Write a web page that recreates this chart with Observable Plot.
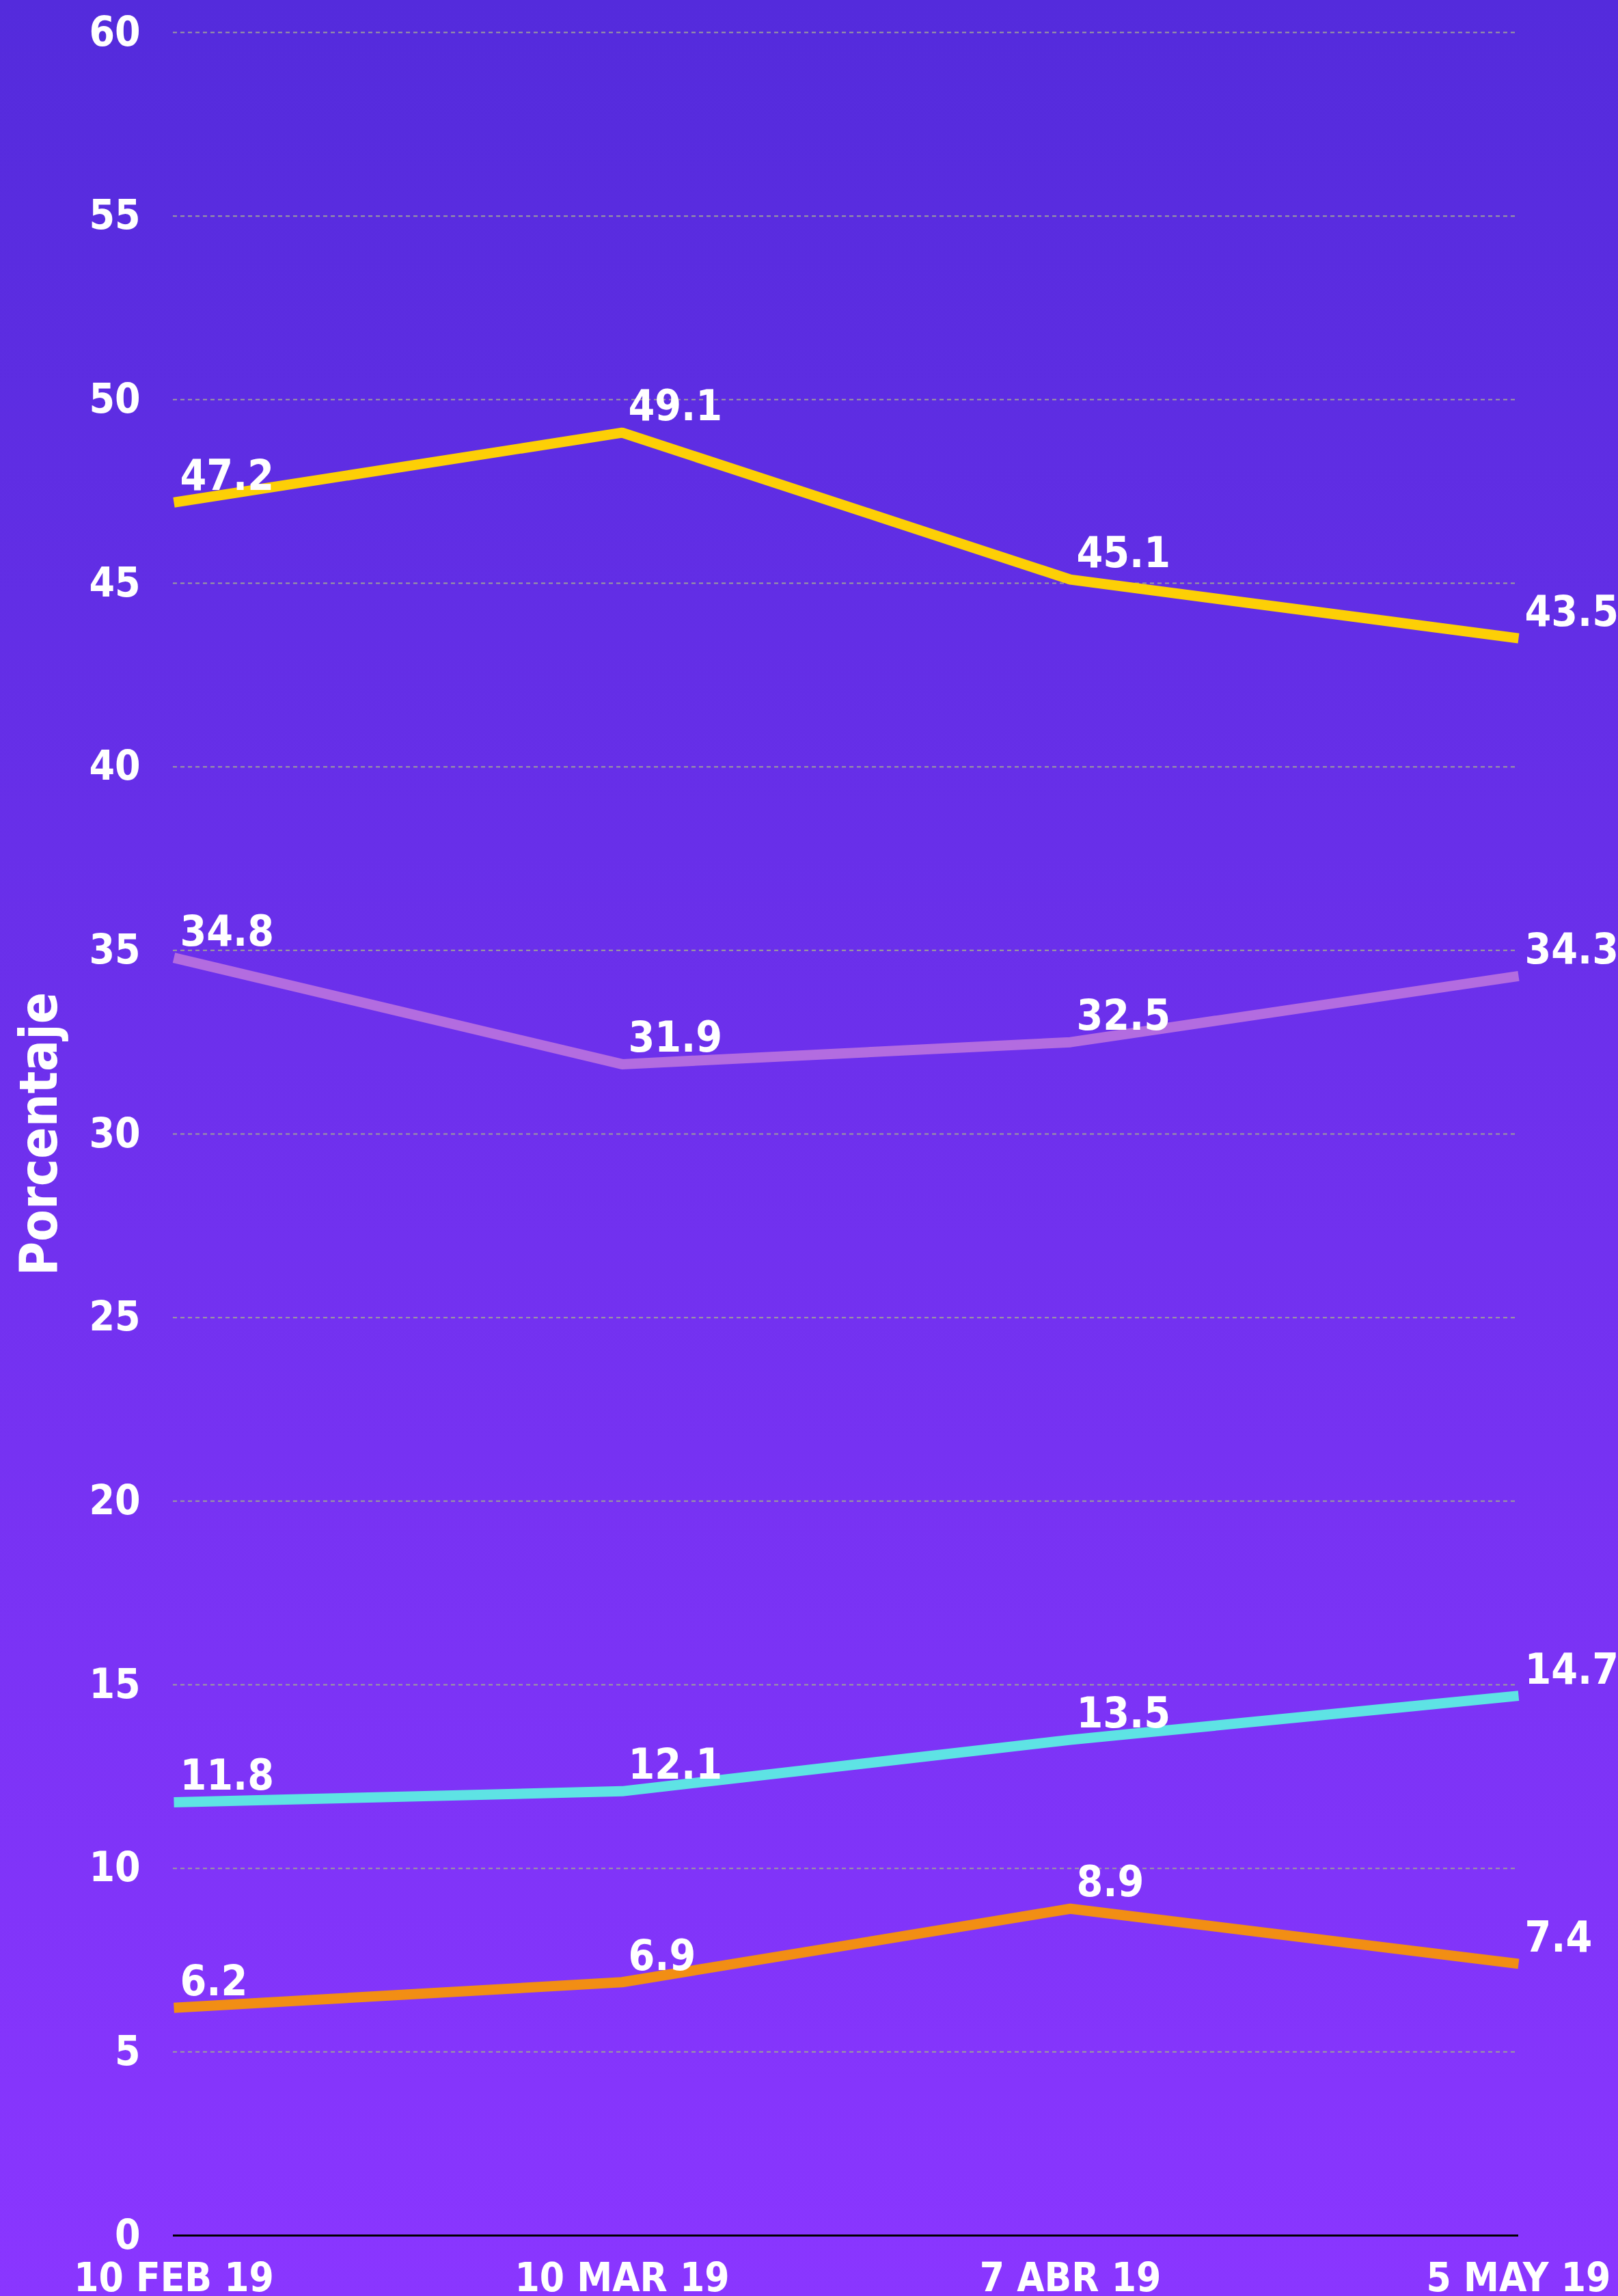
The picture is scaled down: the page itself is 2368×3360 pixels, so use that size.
<!DOCTYPE html>
<html>
<head>
<meta charset="utf-8">
<script src="https://cdn.jsdelivr.net/npm/d3@7"></script>
<script src="https://cdn.jsdelivr.net/npm/@observablehq/plot@0.6"></script>
<style>
  html, body { margin: 0; padding: 0; }
  body { width: 2368px; height: 3360px; overflow: hidden; }
</style>
</head>
<body>
<div id="chart"></div>
<script>
// Fechas (eje X)
const fechas = ["10 FEB 19", "10 MAR 19", "7 ABR 19", "5 MAY 19"];
// Series (valores en porcentaje)
const serie1 = [47.2, 49.1, 45.1, 43.5];
const serie2 = [34.8, 31.9, 32.5, 34.3];
const serie3 = [11.8, 12.1, 13.5, 14.7];
const serie4 = [6.2, 6.9, 8.9, 7.4];
const nombresSeries = ["Serie 1", "Serie 2", "Serie 3", "Serie 4"];
const coloresSeries = ["#FDCF06", "#B36CE0", "#5EE3E4", "#F28E14"];
// Ticks del eje Y
const yTicks = [0, 5, 10, 15, 20, 25, 30, 35, 40, 45, 50, 55, 60];
const yLabel = "Porcentaje";

const valores = [serie1, serie2, serie3, serie4];
const data = [];
valores.forEach((vals, i) => {
  vals.forEach((v, j) => data.push({serie: nombresSeries[i], fecha: fechas[j], valor: v}));
});

const font = "'DejaVu Sans Condensed', 'DejaVu Sans', sans-serif";

const chart = Plot.plot({
  width: 2368,
  height: 3360,
  marginLeft: 253,
  marginRight: 146,
  marginTop: 47,
  marginBottom: 89,
  style: {
    background: "linear-gradient(to bottom, #542BDC 0%, #8A36FF 100%)",
    fontFamily: font,
    fontStretch: "condensed",
    fontWeight: "bold",
    color: "white",
    overflow: "visible"
  },
  x: {type: "point", domain: fechas, padding: 0, label: null},
  y: {domain: [0, 60], label: null},
  color: {domain: nombresSeries, range: coloresSeries},
  marks: [
    Plot.gridY(yTicks.filter(t => t > 0), {stroke: "#9C9C9C", strokeOpacity: 1, strokeWidth: 2, strokeDasharray: "6,5"}),
    Plot.axisY(yTicks, {tickSize: 0, tickPadding: 48, fontSize: 60, fontWeight: "bold", fill: "white", label: null, tickFormat: d3.format("d")}),
    Plot.axisX(fechas, {tickSize: 0, tickPadding: 40, fontSize: 58, fontWeight: "bold", fill: "white", label: null}),
    Plot.text([yLabel], {frameAnchor: "left", rotate: -90, dx: -195, fontSize: 76, fontWeight: "bold", fill: "white", textAnchor: "middle", lineAnchor: "middle"}),
    Plot.ruleY([0], {stroke: "black", strokeWidth: 3}),
    Plot.line(data, {x: "fecha", y: "valor", z: "serie", stroke: "serie", strokeWidth: 15, strokeLinecap: "butt", strokeLinejoin: "miter"}),
    Plot.text(data, {x: "fecha", y: "valor", text: d => d.valor.toFixed(1), textAnchor: "start", lineAnchor: "bottom", dx: 9, dy: -18, fontSize: 62, fontWeight: "bold", fill: "white"})
  ]
});
document.getElementById("chart").appendChild(chart);
</script>
</body>
</html>
